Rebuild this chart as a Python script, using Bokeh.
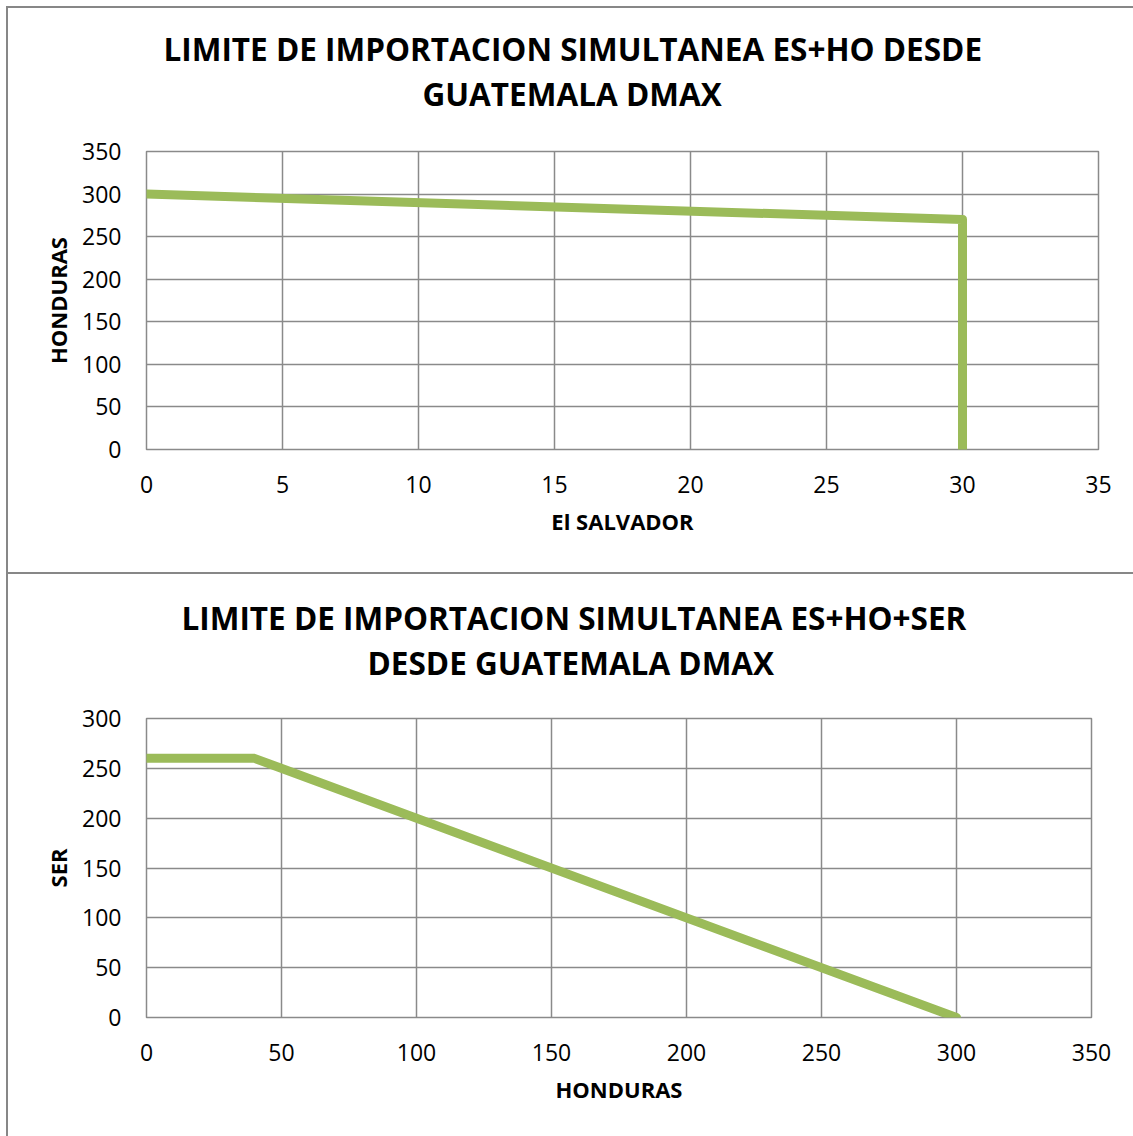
from bokeh.plotting import figure
from bokeh.models import FixedTicker, Range1d, Title
from bokeh.embed import file_html
from bokeh.resources import INLINE

# ---------------- data ----------------
top_title = ["LIMITE DE IMPORTACION SIMULTANEA ES+HO DESDE", "GUATEMALA DMAX"]
top_x_label = "El SALVADOR"
top_y_label = "HONDURAS"
top_x = [0, 30, 30]
top_y = [300, 270, 0]
top_x_ticks = [0, 5, 10, 15, 20, 25, 30, 35]
top_y_ticks = [0, 50, 100, 150, 200, 250, 300, 350]

bot_title = ["LIMITE DE IMPORTACION SIMULTANEA ES+HO+SER", "DESDE GUATEMALA DMAX"]
bot_x_label = "HONDURAS"
bot_y_label = "SER"
bot_x = [0, 40, 300]
bot_y = [260, 260, 0]
bot_x_ticks = [0, 50, 100, 150, 200, 250, 300, 350]
bot_y_ticks = [0, 50, 100, 150, 200, 250, 300]

GREEN = "#9BBB59"
GRID = "#8a8a8a"
FONT = "Open Sans"


def make_chart(title_lines, title_offsets, title_gap, xlabel, ylabel,
               xs, ys, xticks, yticks,
               height, b_left, b_right, b_top, b_bottom, shadow):
    p = figure(width=1133, height=height, output_backend="svg",
               toolbar_location=None,
               x_range=Range1d(xticks[0], xticks[-1]),
               y_range=Range1d(yticks[0], yticks[-1]),
               min_border_left=b_left, min_border_right=b_right,
               min_border_top=b_top, min_border_bottom=b_bottom,
               styles={"box-shadow": shadow})
    p.outline_line_color = GRID
    p.outline_line_width = 1.5
    p.background_fill_color = "white"
    p.border_fill_color = None

    p.xaxis.ticker = FixedTicker(ticks=xticks)
    p.yaxis.ticker = FixedTicker(ticks=yticks)
    for ax in (p.xaxis, p.yaxis):
        ax.axis_line_color = None
        ax.major_tick_line_color = None
        ax.minor_tick_line_color = None
        ax.major_tick_out = 0
        ax.major_label_text_font = FONT
        ax.major_label_text_font_size = "23px"
        ax.major_label_text_color = "black"
        ax.axis_label_text_font = FONT
        ax.axis_label_text_font_size = "22px"
        ax.axis_label_text_font_style = "bold"
        ax.axis_label_text_color = "black"
    p.xaxis.axis_label = xlabel
    p.yaxis.axis_label = ylabel
    p.xaxis.major_label_standoff = 26
    p.yaxis.major_label_standoff = 25
    p.xaxis.axis_label_standoff = 10
    p.yaxis.axis_label_standoff = 6

    p.xgrid.grid_line_color = GRID
    p.ygrid.grid_line_color = GRID
    p.xgrid.grid_line_width = 1.5
    p.ygrid.grid_line_width = 1.5

    p.line(xs, ys, line_color=GREEN, line_width=9,
           line_join="round", line_cap="round")

    # spacer nearest the frame, then the second title line, then the first
    p.add_layout(Title(text=" ", text_font_size="1px", standoff=title_gap), "above")
    for line_text, off in reversed(list(zip(title_lines, title_offsets))):
        p.add_layout(Title(text=line_text, align="left", offset=off,
                           text_font=FONT, text_font_size="31.5px",
                           text_font_style="bold", text_color="black",
                           standoff=0), "above")
    return p


p1 = make_chart(top_title, [17, 276], 34, top_x_label, top_y_label, top_x, top_y,
                top_x_ticks, top_y_ticks, height=572,
                b_left=146, b_right=35, b_top=151, b_bottom=123,
                shadow="inset 6px 6px 0 0 white, inset 8px 8px 0 0 #878787")
p2 = make_chart(bot_title, [35, 221], 32, bot_x_label, bot_y_label, bot_x, bot_y,
                bot_x_ticks, bot_y_ticks, height=564,
                b_left=146, b_right=42, b_top=146, b_bottom=119,
                shadow="inset 6px 0 0 0 white, inset 8px 2px 0 0 #878787")

open("out.html", "w").write(file_html([p1, p2], INLINE))
